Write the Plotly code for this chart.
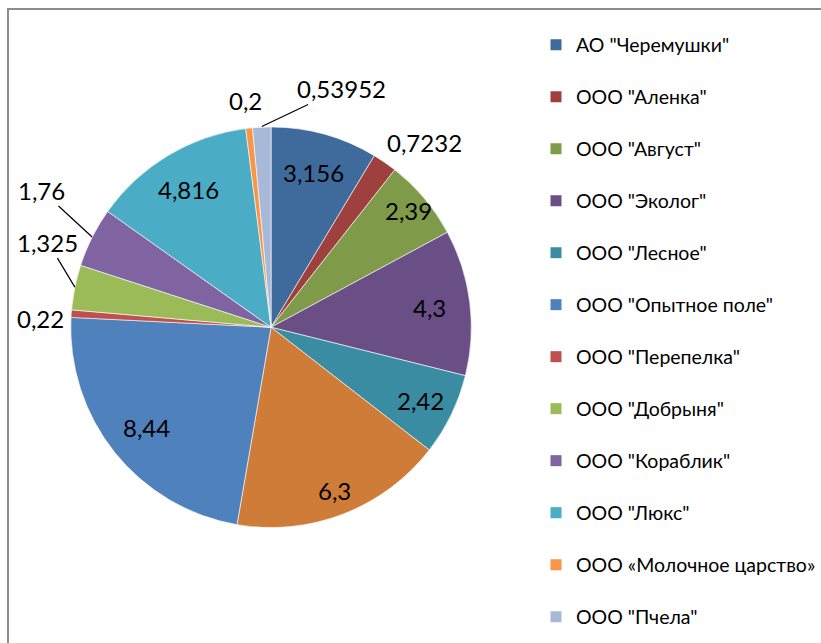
import math
import plotly.graph_objects as go

labels = ['АО "Черемушки"', 'ООО "Аленка"', 'ООО "Август"', 'ООО "Эколог"', 'ООО "Лесное"',
          'ООО (без подписи)', 'ООО "Опытное поле"', 'ООО "Перепелка"', 'ООО "Добрыня"',
          'ООО "Кораблик"', 'ООО "Люкс"', 'ООО «Молочное царство»', 'ООО "Пчела"']
values = [3.156, 0.7232, 2.39, 4.3, 2.42, 6.3, 8.44, 0.22, 1.325, 1.76, 4.816, 0.2, 0.53952]
colors = ['#3E6A9C', '#9E403D', '#7F9A49', '#6A4F87', '#3A8CA3', '#CF7C39', '#4F81BD',
          '#C0504D', '#9BBB59', '#8064A2', '#4BACC6', '#F79646', '#A8B8D8']
legend_show = [True, True, True, True, True, False, True, True, True, True, True, True, True]

# label placement styles: ('in', radial fraction) or ('out', dx px, dy px, leader line)
label_style = [('in', 0.80), ('out', 40, -19, False), ('in', 0.90), ('in', 0.80),
               ('in', 0.83), ('in', 0.87), ('in', 0.80), ('out', -31, 5, False),
               ('out', -27, -45, True), ('out', -51, -47, True), ('in', 0.80),
               ('out', -4, -27, False), ('out', 80, -38, True)]

FONT = "Lato"
W, H = 821, 643
ML, MR, MT, MB = 8, 0, 9, 0
PW, PH = W - ML - MR, H - MT - MB
dom_x = [0.0775, 0.572]
dom_y = [0.181, 0.815]


def fmt(v):
    return ('%g' % v).replace('.', ',')


fig = go.Figure()
fig.add_trace(go.Pie(
    labels=labels, values=values, sort=False, direction='clockwise', rotation=0,
    marker=dict(colors=colors, line=dict(color='white', width=0.6)),
    textinfo='none', showlegend=False, domain=dict(x=dom_x, y=dom_y),
    hoverinfo='label+value',
))

for lab, col, show in zip(labels, colors, legend_show):
    if not show:
        continue
    fig.add_trace(go.Scatter(x=[None], y=[None], mode='markers', name=lab,
                             legendgroup=lab,
                             marker=dict(symbol='square', size=11, color=col)))

# data label positions derived from slice angles
cx = (dom_x[0] + dom_x[1]) / 2
cy = (dom_y[0] + dom_y[1]) / 2
R = min((dom_x[1] - dom_x[0]) * PW, (dom_y[1] - dom_y[0]) * PH) / 2
total = sum(values)
annotations = []
cum = 0.0
for v, st in zip(values, label_style):
    txt = fmt(v)
    mid = (cum + v / 2) / total * 2 * math.pi
    cum += v
    fnt = dict(family=FONT, size=24, color='black')
    if st[0] == 'in':
        r = st[1] * R
        annotations.append(dict(x=cx + r * math.sin(mid) / PW, y=cy + r * math.cos(mid) / PH,
                                xref='paper', yref='paper', text=txt, showarrow=False,
                                font=fnt, xanchor='center', yanchor='middle'))
    else:
        ex = cx + R * math.sin(mid) / PW
        ey = cy + R * math.cos(mid) / PH
        if st[3]:
            annotations.append(dict(x=ex, y=ey, xref='paper', yref='paper', text=txt,
                                    showarrow=True, arrowhead=0, arrowwidth=1.2,
                                    arrowcolor='black', ax=st[1], ay=st[2], standoff=0,
                                    font=fnt))
        else:
            annotations.append(dict(x=ex, y=ey, xref='paper', yref='paper', text=txt,
                                    showarrow=False, xshift=st[1], yshift=-st[2],
                                    font=fnt, xanchor='center', yanchor='middle'))

fig.update_layout(
    width=W, height=H,
    margin=dict(l=ML, r=MR, t=MT, b=MB),
    paper_bgcolor='white', plot_bgcolor='white',
    xaxis=dict(visible=False), yaxis=dict(visible=False),
    legend=dict(x=0.652, y=0.974, xanchor='left', yanchor='top',
                font=dict(family=FONT, size=19.5, color='black'),
                tracegroupgap=23.65, itemclick=False, bgcolor='rgba(0,0,0,0)'),
    annotations=annotations,
    shapes=[dict(type='rect', xref='paper', yref='paper', x0=0, x1=1.05, y0=-0.05, y1=1,
                 line=dict(color='#8C8C8C', width=2), layer='below')],
)

fig.write_html("out.html", config={'displayModeBar': False},
               post_script="document.body.style.margin='0';")
